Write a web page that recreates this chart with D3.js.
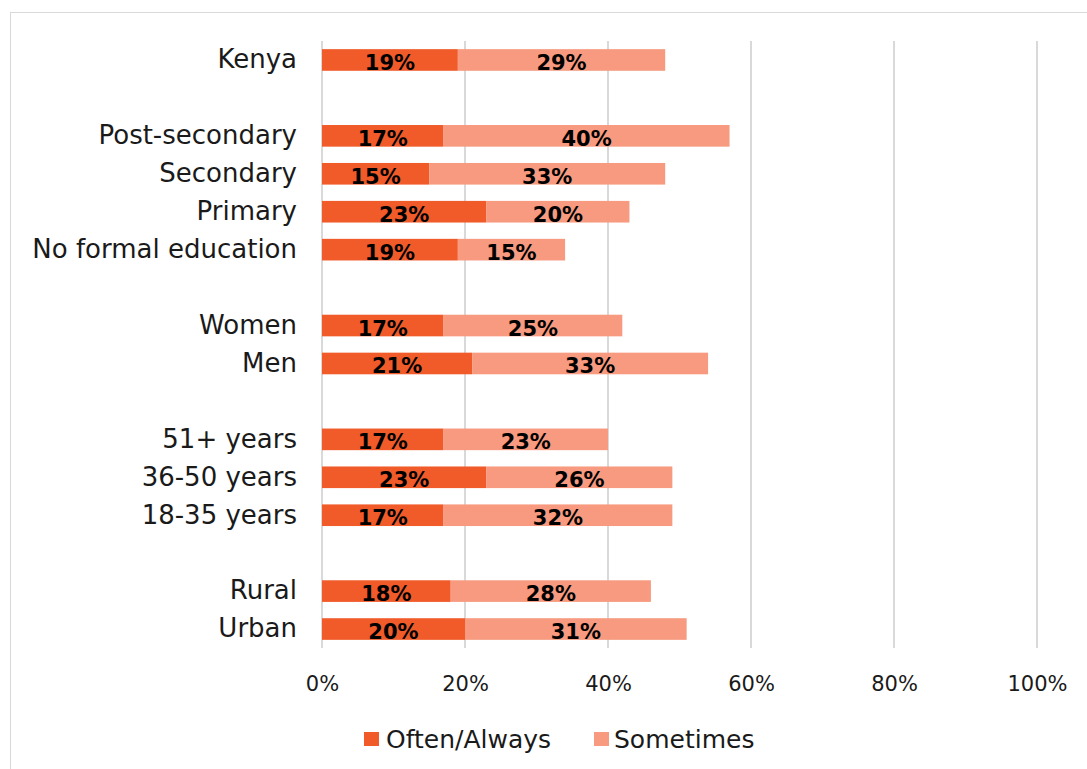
<!DOCTYPE html>
<html>
<head>
<meta charset="utf-8">
<script src="https://cdn.jsdelivr.net/npm/d3@7"></script>
<style>
  html, body { margin: 0; padding: 0; background: #fff; }
  svg { display: block; font-family: "DejaVu Sans", sans-serif; }
</style>
</head>
<body>
<svg id="chart" width="1087" height="769"></svg>
<script>
// Rows top to bottom; empty strings mark the gaps between groups
const categories = [
  "Kenya", "",
  "Post-secondary", "Secondary", "Primary", "No formal education", "",
  "Women", "Men", "",
  "51+ years", "36-50 years", "18-35 years", "",
  "Rural", "Urban"
];
const oftenAlways = [19, null, 17, 15, 23, 19, null, 17, 21, null, 17, 23, 17, null, 18, 20];
const sometimes   = [29, null, 40, 33, 20, 15, null, 25, 33, null, 23, 26, 32, null, 28, 31];
const seriesNames = ["Often/Always", "Sometimes"];
const seriesColors = ["#F15A29", "#F79A7F"];
const xTicks = [0, 20, 40, 60, 80, 100];

const svg = d3.select("#chart");
const W = 1087, H = 769;

// outer chart frame
svg.append("rect")
  .attr("x", 10.5).attr("y", 12.5)
  .attr("width", W).attr("height", H)
  .attr("fill", "#fff").attr("stroke", "#d9d9d9").attr("stroke-width", 1);

const plotLeft = 322, plotRight = 1037, plotTop = 41, plotBottom = 648;

const rowKeys = categories.map((c, i) => c === "" ? "gap" + i : c);
const rows = rowKeys.map((k, i) => ({
  key: k, label: categories[i],
  values: [oftenAlways[i], sometimes[i]]
}));

const x = d3.scaleLinear().domain([0, 100]).range([plotLeft, plotRight]);
const y = d3.scaleBand().domain(rowKeys).range([plotTop, plotBottom]).paddingInner(0.43).paddingOuter(0.215);

// vertical gridlines
svg.append("g").selectAll("line")
  .data(xTicks)
  .join("line")
  .attr("x1", d => x(d)).attr("x2", d => x(d))
  .attr("y1", plotTop).attr("y2", plotBottom)
  .attr("stroke", "#d9d9d9").attr("stroke-width", 2);

// x axis tick labels
const xAxis = d3.axisBottom(x).tickValues(xTicks).tickFormat(d => d + "%").tickSize(0).tickPadding(0);
const gx = svg.append("g").attr("transform", `translate(0,${plotBottom + 36})`).call(xAxis);
gx.select(".domain").remove();
gx.selectAll("text")
  .attr("fill", "#1a1a1a")
  .attr("font-size", 21)
  .attr("font-family", "DejaVu Sans, sans-serif")
  .attr("dy", "0.35em");

// category labels
const yAxis = d3.axisLeft(y).tickFormat(k => k.startsWith("gap") ? "" : k).tickSize(0).tickPadding(0);
const gy = svg.append("g").attr("transform", `translate(${plotLeft - 25},0)`).call(yAxis);
gy.select(".domain").remove();
gy.selectAll("text")
  .attr("fill", "#1a1a1a")
  .attr("font-size", 26)
  .attr("font-family", "DejaVu Sans, sans-serif");

// stacked segments
const segs = [];
rows.forEach(r => {
  if (r.values[0] == null) return;
  let acc = 0;
  r.values.forEach((v, s) => {
    segs.push({ key: r.key, s, x0: acc, x1: acc + v, v });
    acc += v;
  });
});

svg.append("g").selectAll("rect")
  .data(segs)
  .join("rect")
  .attr("x", d => x(d.x0))
  .attr("y", d => y(d.key))
  .attr("width", d => x(d.x1) - x(d.x0))
  .attr("height", y.bandwidth())
  .attr("fill", d => seriesColors[d.s]);

svg.append("g").selectAll("text")
  .data(segs)
  .join("text")
  .attr("x", d => (x(d.x0) + x(d.x1)) / 2)
  .attr("y", d => y(d.key) + y.bandwidth() / 2 + 3)
  .attr("dominant-baseline", "central")
  .attr("text-anchor", "middle")
  .attr("font-size", 21)
  .attr("font-weight", "bold")
  .attr("fill", "#000")
  .text(d => d.v + "%");

// legend
const legend = svg.append("g");
const legendItems = [{ x: 364, tx: 386 }, { x: 594, tx: 614 }];
seriesNames.forEach((name, i) => {
  legend.append("rect")
    .attr("x", legendItems[i].x).attr("y", 732)
    .attr("width", 15).attr("height", 14)
    .attr("fill", seriesColors[i]);
  legend.append("text")
    .attr("x", legendItems[i].tx).attr("y", 739)
    .attr("dominant-baseline", "central")
    .attr("font-size", 25)
    .attr("fill", "#1a1a1a")
    .text(name);
});
</script>
</body>
</html>
